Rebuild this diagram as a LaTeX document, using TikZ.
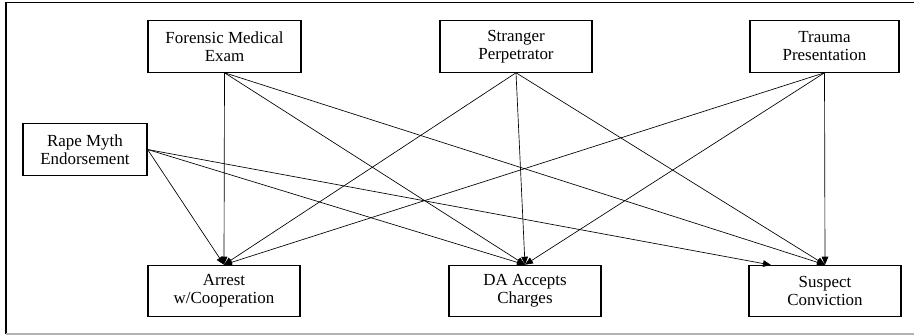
\documentclass[tikz,border=0pt]{standalone}
\usepackage{fontspec}
\setmainfont{Liberation Serif}
\usetikzlibrary{arrows.meta}
\tikzset{
  varbox/.style={draw, thick, line width=0.9pt, align=center, inner sep=2pt,
    minimum height=38.5pt, font=\fontsize{12.7}{13.5}\selectfont},
  path/.style={-{Triangle[length=6pt,width=5pt]}, line width=0.5pt}
}
\begin{document}
\begin{tikzpicture}[x=0.75pt, y=-0.75pt]
          \useasboundingbox (0,0) rectangle (914,335);
          % outer frame
          \draw [line width=1.2pt] (6,334) -- (6,2.5) -- (914,2.5);
          \draw [line width=1.2pt, color=black!30] (6,334) -- (914,334);

          % predictors
          \node[varbox, minimum width=114.75pt] (fme) at (224.5,46.5) {Forensic Medical\\Exam};
          \node[varbox, minimum width=114pt] (sp) at (516,46.5) {Stranger\\Perpetrator};
          \node[varbox, minimum width=111.75pt] (tp) at (824.5,46.5) {Trauma\\Presentation};
          \node[varbox, minimum width=93pt] (rme) at (85,149.5) {Rape Myth\\Endorsement};

          % outcomes
          \node[varbox, minimum width=114pt] (arr) at (224,291) {Arrest\\w/Cooperation};
          \node[varbox, minimum width=114pt] (da) at (525,291) {DA Accepts\\Charges};
          \node[varbox, minimum width=114pt] (sc) at (825,291) {Suspect\\Conviction};
          \coordinate (scw) at (771,265);

          \foreach \src in {fme,sp,tp}
            \foreach \dst in {arr,da,sc}
              \draw [path] (\src.south) -- (\dst.north);
          \draw [path] (rme.east) -- (arr.north);
          \draw [path] (rme.east) -- (da.north);
          \draw [path] (rme.east) -- (scw);
        \end{tikzpicture}
\end{document}
